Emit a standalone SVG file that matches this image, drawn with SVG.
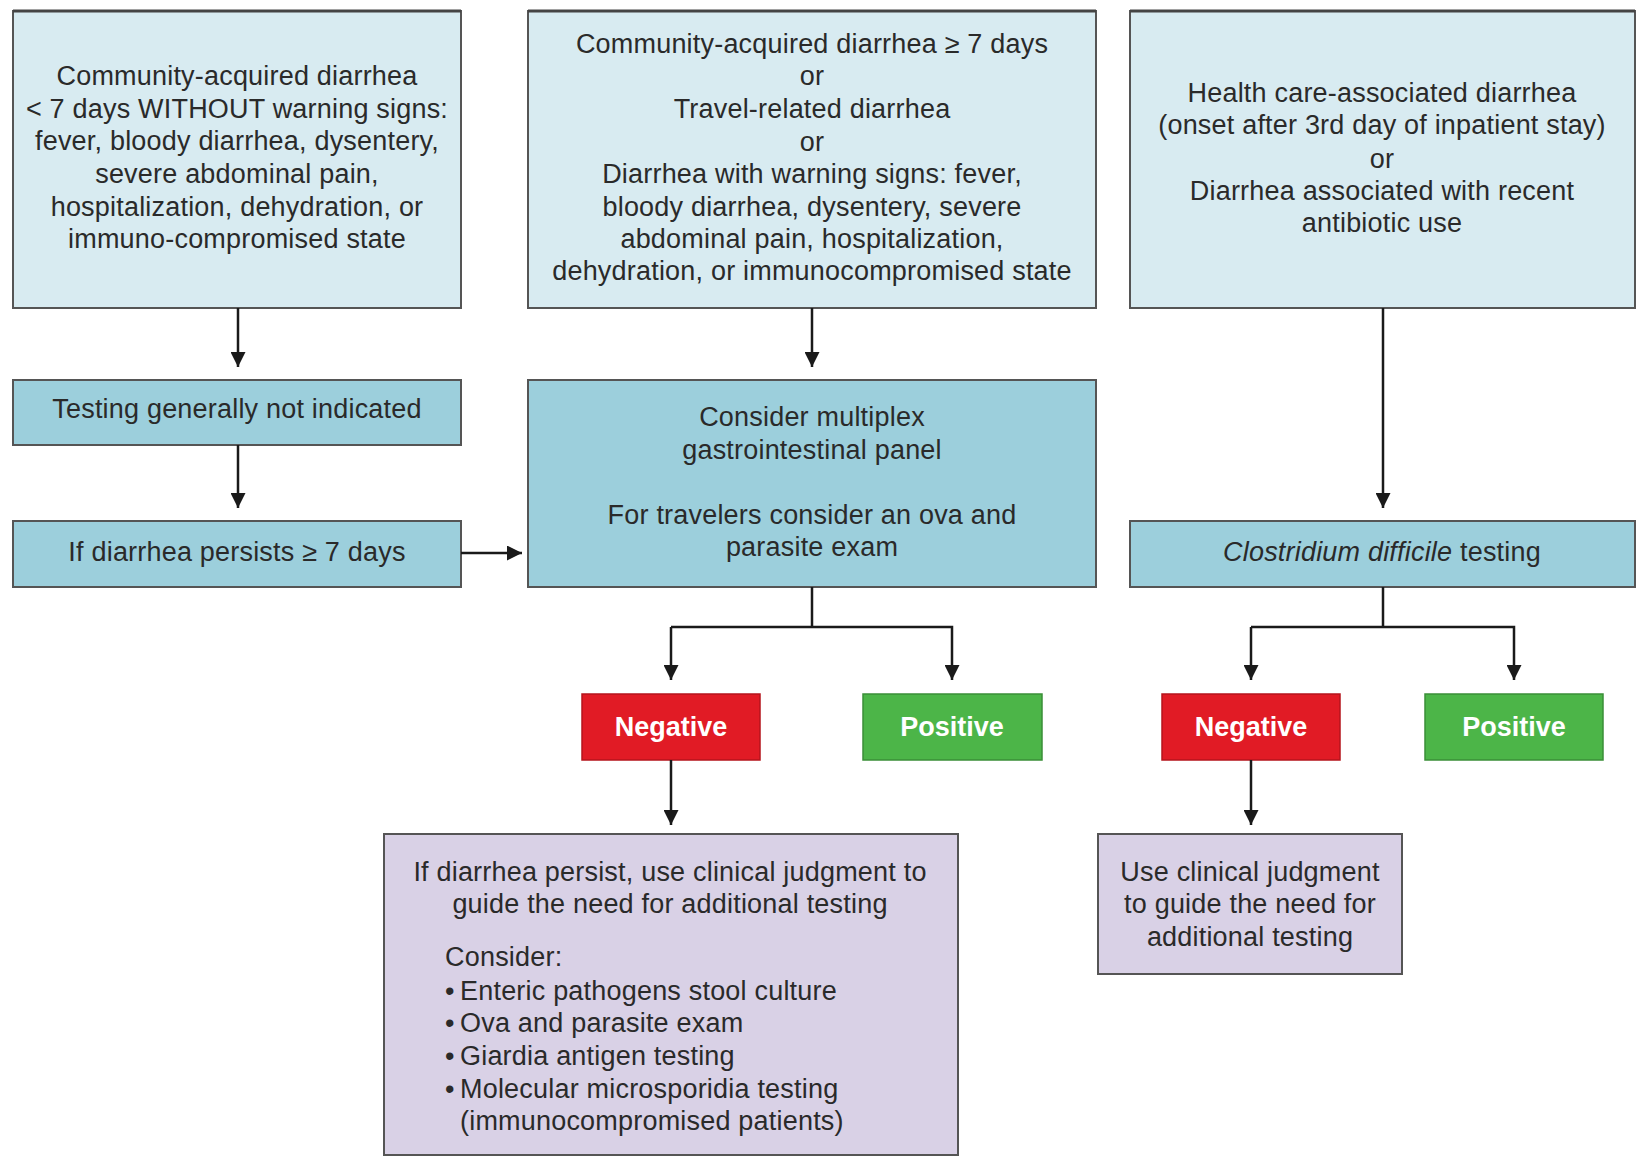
<svg xmlns="http://www.w3.org/2000/svg" width="1637" height="1157" viewBox="0 0 1637 1157">
<defs>
<style>
.t{font-family:"Liberation Sans",Arial,sans-serif;font-size:27px;letter-spacing:0.2px;fill:#2a2a2a;text-anchor:middle}
.l{text-anchor:start}
.w{font-family:"Liberation Sans",Arial,sans-serif;font-size:27px;font-weight:bold;fill:#ffffff;text-anchor:middle}
.top{fill:#d8ebf1;stroke:#555;stroke-width:2}
.mid{fill:#9ccfdc;stroke:#555;stroke-width:2}
.neg{fill:#e11b25;stroke:#b5151c;stroke-width:1.5}
.pos{fill:#4cb548;stroke:#3a8f37;stroke-width:1.5}
.pur{fill:#d9d1e6;stroke:#555;stroke-width:2}
.c{fill:none;stroke:#1a1a1a;stroke-width:2.5}
</style>
<marker id="ah" viewBox="0 0 10 10" refX="10" refY="5" markerWidth="6" markerHeight="6" markerUnits="strokeWidth" orient="auto">
<path d="M0,0 L10,5 L0,10 Z" fill="#1a1a1a"/>
</marker>
</defs>
<rect width="1637" height="1157" fill="#ffffff"/>

<g id="n1">
<rect class="top" x="13" y="11" width="448" height="297"/>
<line x1="13" y1="11" x2="461" y2="11" stroke="#444" stroke-width="3"/>
<text class="t" x="237" y="85">Community-acquired diarrhea</text>
<text class="t" x="237" y="118">&lt; 7 days WITHOUT warning signs:</text>
<text class="t" x="237" y="150">fever, bloody diarrhea, dysentery,</text>
<text class="t" x="237" y="183">severe  abdominal pain,</text>
<text class="t" x="237" y="216">hospitalization, dehydration, or</text>
<text class="t" x="237" y="248">immuno-compromised state</text>
</g>

<g id="n2">
<rect class="top" x="528" y="11" width="568" height="297"/>
<line x1="528" y1="11" x2="1096" y2="11" stroke="#444" stroke-width="3"/>
<text class="t" x="812" y="53">Community-acquired diarrhea ≥ 7 days</text>
<text class="t" x="812" y="85">or</text>
<text class="t" x="812" y="118">Travel-related diarrhea</text>
<text class="t" x="812" y="151">or</text>
<text class="t" x="812" y="183">Diarrhea with warning signs: fever,</text>
<text class="t" x="812" y="216">bloody diarrhea, dysentery, severe</text>
<text class="t" x="812" y="248">abdominal pain, hospitalization,</text>
<text class="t" x="812" y="280">dehydration, or immunocompromised state</text>
</g>

<g id="n3">
<rect class="top" x="1130" y="11" width="505" height="297"/>
<line x1="1130" y1="11" x2="1635" y2="11" stroke="#444" stroke-width="3"/>
<text class="t" x="1382" y="102">Health care-associated diarrhea</text>
<text class="t" x="1382" y="134">(onset after 3rd day of inpatient stay)</text>
<text class="t" x="1382" y="168">or</text>
<text class="t" x="1382" y="200">Diarrhea associated with recent</text>
<text class="t" x="1382" y="232">antibiotic use</text>
</g>

<g id="n4">
<rect class="mid" x="13" y="380" width="448" height="65"/>
<text class="t" x="237" y="418">Testing generally not indicated</text>
</g>

<g id="n5">
<rect class="mid" x="13" y="521" width="448" height="66"/>
<text class="t" x="237" y="561">If diarrhea persists ≥ 7 days</text>
</g>

<g id="n6">
<rect class="mid" x="528" y="380" width="568" height="207"/>
<text class="t" x="812" y="426">Consider multiplex</text>
<text class="t" x="812" y="459">gastrointestinal panel</text>
<text class="t" x="812" y="524">For travelers consider an ova and</text>
<text class="t" x="812" y="556">parasite exam</text>
</g>

<g id="n7">
<rect class="mid" x="1130" y="521" width="505" height="66"/>
<text class="t" x="1382" y="561"><tspan font-style="italic">Clostridium difficile</tspan> testing</text>
</g>

<g id="n8">
<rect class="neg" x="582" y="694" width="178" height="66"/>
<text class="w" x="671" y="736">Negative</text>
</g>

<g id="n9">
<rect class="pos" x="863" y="694" width="179" height="66"/>
<text class="w" x="952" y="736">Positive</text>
</g>

<g id="n10">
<rect class="neg" x="1162" y="694" width="178" height="66"/>
<text class="w" x="1251" y="736">Negative</text>
</g>

<g id="n11">
<rect class="pos" x="1425" y="694" width="178" height="66"/>
<text class="w" x="1514" y="736">Positive</text>
</g>

<g id="n12">
<rect class="pur" x="384" y="834" width="574" height="321"/>
<text class="t" x="670" y="881">If diarrhea persist, use clinical judgment to</text>
<text class="t" x="670" y="913">guide the need for additional testing</text>
<text class="t l" x="445" y="966">Consider:</text>
<text class="t l" x="445" y="1000">•</text><text class="t l" x="460" y="1000">Enteric pathogens stool culture</text>
<text class="t l" x="445" y="1032">•</text><text class="t l" x="460" y="1032">Ova and parasite exam</text>
<text class="t l" x="445" y="1065">•</text><text class="t l" x="460" y="1065">Giardia antigen testing</text>
<text class="t l" x="445" y="1098">•</text><text class="t l" x="460" y="1098">Molecular microsporidia testing</text>
<text class="t l" x="460" y="1130">(immunocompromised patients)</text>
</g>

<g id="n13">
<rect class="pur" x="1098" y="834" width="304" height="140"/>
<text class="t" x="1250" y="881">Use clinical judgment</text>
<text class="t" x="1250" y="913">to guide the need for</text>
<text class="t" x="1250" y="946">additional testing</text>
</g>

<g id="connectors">
<path class="c" d="M238,308 V367" marker-end="url(#ah)"/>
<path class="c" d="M238,445 V508" marker-end="url(#ah)"/>
<path class="c" d="M461,553 H522" marker-end="url(#ah)"/>
<path class="c" d="M812,308 V367" marker-end="url(#ah)"/>
<path class="c" d="M1383,308 V508" marker-end="url(#ah)"/>
<path class="c" d="M812,587 V627"/>
<path class="c" d="M671,627 H952 V680" marker-end="url(#ah)"/>
<path class="c" d="M671,627 V680" marker-end="url(#ah)"/>
<path class="c" d="M671,760 V825" marker-end="url(#ah)"/>
<path class="c" d="M1383,587 V627"/>
<path class="c" d="M1251,627 H1514 V680" marker-end="url(#ah)"/>
<path class="c" d="M1251,627 V680" marker-end="url(#ah)"/>
<path class="c" d="M1251,760 V825" marker-end="url(#ah)"/>
</g>
</svg>
